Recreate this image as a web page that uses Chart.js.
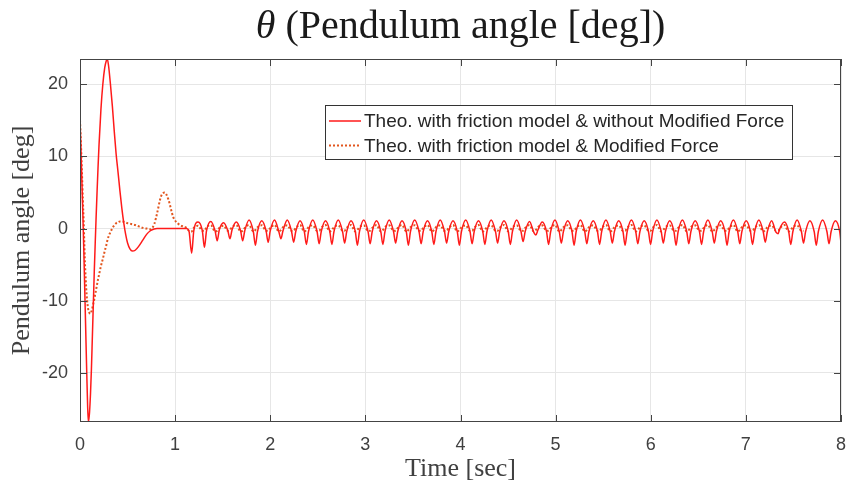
<!DOCTYPE html>
<html>
<head>
<meta charset="utf-8">
<script src="https://cdn.jsdelivr.net/npm/chart.js@4.4.0/dist/chart.umd.min.js"></script>
<style>
  html, body { margin: 0; padding: 0; background: #fff; }
  #wrap { width: 847px; height: 488px; }
</style>
</head>
<body>
<div id="wrap"><canvas id="thetaChart"></canvas></div>
<script>
// pendulum angle response, with / without modified force

const xTicks = [0, 1, 2, 3, 4, 5, 6, 7, 8];
const yTicks = [-20, -10, 0, 10, 20];
const seriesNames = [
    'Theo. with friction model & without Modified Force',
    'Theo. with friction model & Modified Force'
];

// time [sec]
const timeSec = [
    0, 0.01, 0.02, 0.03, 0.04, 0.05, 0.06, 0.07, 0.08, 0.088,
    0.10, 0.11, 0.12, 0.13, 0.14, 0.15, 0.16, 0.17, 0.18, 0.19,
    0.20, 0.22, 0.24, 0.26, 0.275, 0.287, 0.30, 0.32, 0.34, 0.36,
    0.38, 0.40, 0.42, 0.44, 0.46, 0.48, 0.50, 0.525, 0.55, 0.58,
    0.62, 0.66, 0.70, 0.74, 0.78, 0.81, 0.85, 0.89, 0.93, 0.98,
    1.03, 1.08, 1.12, 1.145,
    1.174, 1.196, 1.241, 1.286,
    1.308, 1.330, 1.375, 1.420,
    1.442, 1.464, 1.509, 1.554,
    1.576, 1.598, 1.643, 1.688,
    1.710, 1.732, 1.777, 1.822,
    1.844, 1.866, 1.911, 1.956,
    1.978, 2.000, 2.045, 2.090,
    2.112, 2.134, 2.179, 2.224,
    2.246, 2.268, 2.313, 2.358,
    2.380, 2.402, 2.447, 2.492,
    2.514, 2.536, 2.581, 2.626,
    2.648, 2.670, 2.715, 2.760,
    2.782, 2.804, 2.849, 2.894,
    2.916, 2.938, 2.983, 3.028,
    3.050, 3.072, 3.117, 3.162,
    3.184, 3.206, 3.251, 3.296,
    3.318, 3.340, 3.385, 3.430,
    3.452, 3.474, 3.519, 3.564,
    3.586, 3.608, 3.653, 3.698,
    3.720, 3.742, 3.787, 3.832,
    3.854, 3.876, 3.921, 3.966,
    3.988, 4.010, 4.055, 4.100,
    4.122, 4.144, 4.189, 4.234,
    4.256, 4.278, 4.323, 4.368,
    4.390, 4.412, 4.457, 4.502,
    4.524, 4.546, 4.591, 4.636,
    4.658, 4.680, 4.725, 4.770,
    4.792, 4.814, 4.859, 4.904,
    4.926, 4.948, 4.993, 5.038,
    5.060, 5.082, 5.127, 5.172,
    5.194, 5.216, 5.261, 5.306,
    5.328, 5.350, 5.395, 5.440,
    5.462, 5.484, 5.529, 5.574,
    5.596, 5.618, 5.663, 5.708,
    5.730, 5.752, 5.797, 5.842,
    5.864, 5.886, 5.931, 5.976,
    5.998, 6.020, 6.065, 6.110,
    6.132, 6.154, 6.199, 6.244,
    6.266, 6.288, 6.333, 6.378,
    6.400, 6.422, 6.467, 6.512,
    6.534, 6.556, 6.601, 6.646,
    6.668, 6.690, 6.735, 6.780,
    6.802, 6.824, 6.869, 6.914,
    6.936, 6.958, 7.003, 7.048,
    7.070, 7.092, 7.137, 7.182,
    7.204, 7.226, 7.271, 7.316,
    7.338, 7.360, 7.405, 7.450,
    7.472, 7.494, 7.539, 7.584,
    7.606, 7.628, 7.673, 7.718,
    7.740, 7.762, 7.807, 7.852,
    7.874, 7.896, 7.941, 7.986,
    8.000
];

// theta [deg], without modified force (solid)
const thetaNoMod = [
    15, 11, 6.5, 2, -3, -8.5, -14, -19.5, -24.5, -26.8,
    -25.5, -23, -19.5, -15, -10.5, -6, -2, 1.8, 5.3, 8.6,
    11.6, 16.5, 20, 22.3, 23.2, 23.5, 22.6, 20, 17, 13.5,
    10.3, 7.8, 5.2, 2.8, 0.8, -0.8, -2.0, -2.8, -3.1, -3.0,
    -2.4, -1.6, -0.8, -0.3, -0.05, 0, 0, 0, 0, 0,
    0, 0, 0, -0.3,
    -3.4, -0.3, 0.9, -0.3,
    -2.6, -0.3, 1.0, -0.3,
    -1.7, -0.2, 0.8, -0.3,
    -1.4, -0.2, 0.9, -0.3,
    -1.7, -0.3, 1.2, -0.4,
    -2.3, -0.4, 1.1, -0.3,
    -1.9, -0.3, 1.2, -0.4,
    -1.4, -0.3, 1.2, -0.4,
    -1.9, -0.4, 1.1, -0.4,
    -2.2, -0.4, 1.2, -0.4,
    -2.1, -0.4, 1.1, -0.4,
    -2.2, -0.4, 1.2, -0.4,
    -2.0, -0.4, 1.1, -0.4,
    -2.3, -0.4, 1.2, -0.4,
    -2.1, -0.4, 1.1, -0.4,
    -2.2, -0.4, 1.2, -0.4,
    -2.0, -0.4, 1.1, -0.4,
    -2.3, -0.4, 1.2, -0.4,
    -2.1, -0.4, 1.1, -0.4,
    -2.2, -0.4, 1.2, -0.4,
    -2.0, -0.4, 1.1, -0.4,
    -2.3, -0.4, 1.2, -0.4,
    -2.1, -0.4, 1.1, -0.4,
    -2.2, -0.4, 1.2, -0.4,
    -2.0, -0.4, 1.1, -0.4,
    -2.2, -0.4, 1.2, -0.4,
    -1.8, -0.4, 1.0, -0.5,
    -0.9, -0.2, 0.9, -0.4,
    -2.2, -0.4, 1.2, -0.4,
    -2.0, -0.4, 1.1, -0.4,
    -2.3, -0.4, 1.2, -0.4,
    -2.1, -0.4, 1.1, -0.4,
    -2.2, -0.4, 1.2, -0.4,
    -2.0, -0.4, 1.1, -0.4,
    -2.3, -0.4, 1.2, -0.4,
    -2.1, -0.4, 1.1, -0.4,
    -2.2, -0.4, 1.2, -0.4,
    -2.0, -0.4, 1.1, -0.4,
    -2.3, -0.4, 1.2, -0.4,
    -2.1, -0.4, 1.1, -0.4,
    -2.2, -0.4, 1.2, -0.4,
    -2.0, -0.4, 1.1, -0.4,
    -2.3, -0.4, 1.2, -0.4,
    -2.1, -0.4, 1.1, -0.4,
    -2.2, -0.4, 1.2, -0.4,
    -1.9, -0.4, 1.1, -0.5,
    -0.7, 0.1, 0.9, -0.4,
    -2.2, -0.4, 1.2, -0.4,
    -2.0, -0.4, 1.1, -0.4,
    -2.3, -0.4, 1.2, -0.4,
    -2.1, -0.4, 1.1, -0.4,
    -2.0
];

// theta [deg], with modified force (dotted)
const thetaMod = [
    15, 11.8, 8, 4, 0.5, -4, -7, -9.2, -10.6, -11.3,
    -11.7, -11.8, -11.5, -11, -10.4, -9.8, -9.1, -8.4, -7.7, -7.0,
    -6.4, -5.2, -4.2, -3.1, -2.4, -1.7, -1.1, -0.5, 0.05, 0.45,
    0.75, 0.9, 1.0, 1.0, 0.95, 0.85, 0.75, 0.7, 0.6, 0.5,
    0.3, 0.1, 0, -0.1, 0.6, 2.1, 4.4, 5.0, 4.0, 1.6,
    0.7, 0.3, 0.1, -0.3,
    -0.4, 0.1, 0.4, -0.3,
    -0.3, 0.2, 0.5, -0.4,
    -0.3, 0.1, 0.4, -0.3,
    -0.2, 0.2, 0.5, -0.4,
    -0.3, 0.1, 0.5, -0.4,
    -0.2, 0.2, 0.45, -0.3,
    -0.3, 0.1, 0.5, -0.4,
    -0.2, 0.2, 0.45, -0.3,
    -0.3, 0.1, 0.5, -0.4,
    -0.2, 0.2, 0.45, -0.3,
    -0.3, 0.1, 0.5, -0.4,
    -0.2, 0.2, 0.45, -0.3,
    -0.3, 0.1, 0.5, -0.4,
    -0.2, 0.2, 0.45, -0.3,
    -0.3, 0.1, 0.5, -0.4,
    -0.2, 0.2, 0.45, -0.3,
    -0.3, 0.1, 0.5, -0.4,
    -0.2, 0.2, 0.45, -0.3,
    -0.3, 0.1, 0.5, -0.4,
    -0.2, 0.2, 0.45, -0.3,
    -0.3, 0.1, 0.5, -0.4,
    -0.2, 0.2, 0.45, -0.3,
    -0.3, 0.1, 0.5, -0.4,
    -0.2, 0.2, 0.45, -0.3,
    -0.3, 0.1, 0.5, -0.4,
    -0.2, 0.2, 0.45, -0.3,
    -0.3, 0.1, 0.5, -0.4,
    -0.2, 0.2, 0.45, -0.3,
    -0.3, 0.1, 0.5, -0.4,
    -0.2, 0.2, 0.45, -0.3,
    -0.3, 0.1, 0.5, -0.4,
    -0.2, 0.2, 0.45, -0.3,
    -0.3, 0.1, 0.5, -0.4,
    -0.2, 0.2, 0.45, -0.3,
    -0.3, 0.1, 0.5, -0.4,
    -0.2, 0.2, 0.45, -0.3,
    -0.3, 0.1, 0.5, -0.4,
    -0.2, 0.2, 0.45, -0.3,
    -0.3, 0.1, 0.5, -0.4,
    -0.2, 0.2, 0.45, -0.3,
    -0.3, 0.1, 0.5, -0.4,
    -0.2, 0.2, 0.45, -0.3,
    -0.3, 0.1, 0.5, -0.4,
    -0.2, 0.2, 0.45, -0.3,
    -0.3, 0.1, 0.5, -0.4,
    -0.2, 0.2, 0.45, -0.3,
    -0.3, 0.1, 0.5, -0.4,
    -0.2, 0.2, 0.45, -0.3,
    -0.3
];

const solidColor = '#ff1a1a';
const dottedColor = '#e2561e';
const axisColor = '#444444';
const serif = '"Liberation Serif", "Times New Roman", serif';

Chart.defaults.font.family = '"Liberation Sans", Arial, sans-serif';

// box, inward ticks, legend and title (matlab look)
const matlabAxes = {
    id: 'matlabAxes',
    beforeDraw(chart) {
        const ctx = chart.ctx;
        ctx.save();
        ctx.fillStyle = '#fff';
        ctx.fillRect(0, 0, chart.width, chart.height);
        ctx.restore();
    },
    afterDatasetsDraw(chart) {
        const { ctx, chartArea: a, scales: { x, y } } = chart;
        ctx.save();
        ctx.strokeStyle = axisColor;
        ctx.lineWidth = 1;
        ctx.beginPath();
        xTicks.forEach(v => {
            const px = Math.round(x.getPixelForValue(v)) + 0.5;
            ctx.moveTo(px, a.bottom); ctx.lineTo(px, a.bottom - 7);
            ctx.moveTo(px, a.top); ctx.lineTo(px, a.top + 7);
        });
        yTicks.forEach(v => {
            const py = Math.round(y.getPixelForValue(v)) + 0.5;
            ctx.moveTo(a.left, py); ctx.lineTo(a.left + 7, py);
            ctx.moveTo(a.right, py); ctx.lineTo(a.right - 7, py);
        });
        ctx.stroke();
        ctx.strokeRect(Math.round(a.left) + 0.5, Math.round(a.top) + 0.5,
            Math.round(a.width) - 1, Math.round(a.height) - 1);
        ctx.restore();
    },
    afterDraw(chart) {
        const { ctx, chartArea: a } = chart;
        ctx.save();

        // legend
        const bx = 325.5, by = 105.5, bw = 467, bh = 54;
        ctx.fillStyle = '#fff';
        ctx.fillRect(bx, by, bw, bh);
        ctx.strokeStyle = '#333';
        ctx.lineWidth = 1;
        ctx.strokeRect(bx, by, bw, bh);
        ctx.font = '19px "Liberation Sans", Arial, sans-serif';
        ctx.textBaseline = 'middle';
        ctx.fillStyle = '#262626';
        chart.data.datasets.forEach((ds, i) => {
            const ly = 121 + i * 24.5;
            ctx.save();
            ctx.strokeStyle = ds.borderColor;
            ctx.lineWidth = ds.borderWidth;
            ctx.setLineDash(ds.borderDash || []);
            ctx.beginPath();
            ctx.moveTo(329, ly);
            ctx.lineTo(361, ly);
            ctx.stroke();
            ctx.restore();
            ctx.fillText(ds.label, 364, ly + 1);
        });

        // title: italic theta + rest
        const cx = (a.left + a.right) / 2;
        const t1 = '\u03B8';
        const t2 = ' (Pendulum angle [deg])';
        ctx.fillStyle = '#1a1a1a';
        ctx.textBaseline = 'alphabetic';
        ctx.font = 'italic 40px ' + serif;
        const w1 = ctx.measureText(t1).width;
        ctx.font = '40px ' + serif;
        const w2 = ctx.measureText(t2).width;
        const x0 = cx - (w1 + w2) / 2;
        ctx.font = 'italic 40px ' + serif;
        ctx.fillText(t1, x0, 38);
        ctx.font = '40px ' + serif;
        ctx.fillText(t2, x0 + w1, 38);
        ctx.restore();
    }
};

const ctx = document.getElementById('thetaChart').getContext('2d');

new Chart(ctx, {
    type: 'line',
    data: {
        datasets: [{
            label: seriesNames[0],
            data: timeSec.map((t, i) => ({ x: t, y: thetaNoMod[i] })),
            borderColor: solidColor,
            borderWidth: 1.5,
            pointRadius: 0,
            cubicInterpolationMode: 'monotone',
            fill: false
        }, {
            label: seriesNames[1],
            data: timeSec.map((t, i) => ({ x: t, y: thetaMod[i] })),
            borderColor: dottedColor,
            borderWidth: 2,
            borderDash: [2, 2],
            pointRadius: 0,
            cubicInterpolationMode: 'monotone',
            fill: false
        }]
    },
    options: {
        responsive: true,
        maintainAspectRatio: false,
        animation: false,
        layout: { padding: { top: 59, right: 6, left: 0, bottom: 0 } },
        plugins: {
            legend: { display: false },
            tooltip: { enabled: false }
        },
        scales: {
            x: {
                type: 'linear',
                min: 0,
                max: 8,
                afterBuildTicks: (scale) => { scale.ticks = xTicks.map(v => ({ value: v })); },
                afterFit: (scale) => {
                    scale.height = 66;
                    scale.paddingLeft = 0;
                    scale.paddingRight = 0;
                },
                grid: { color: '#e6e6e6', drawTicks: false },
                border: { display: false },
                ticks: { color: '#404040', font: { size: 18 }, padding: 12, maxRotation: 0 },
                title: {
                    display: true,
                    text: 'Time [sec]',
                    color: '#404040',
                    font: { family: serif, size: 26 },
                    padding: { top: 0, bottom: 3 }
                }
            },
            y: {
                type: 'linear',
                min: -26.8,
                max: 23.5,
                afterBuildTicks: (scale) => { scale.ticks = yTicks.map(v => ({ value: v })); },
                afterFit: (scale) => {
                    scale.width = 80;
                    scale.paddingTop = 0;
                    scale.paddingBottom = 0;
                },
                grid: { color: '#e6e6e6', drawTicks: false },
                border: { display: false },
                ticks: { color: '#404040', font: { size: 18 }, padding: 12 },
                title: {
                    display: true,
                    text: 'Pendulum angle [deg]',
                    color: '#404040',
                    font: { family: serif, size: 26 },
                    padding: { top: 7, bottom: 0 }
                }
            }
        }
    },
    plugins: [matlabAxes]
});
</script>
</body>
</html>
